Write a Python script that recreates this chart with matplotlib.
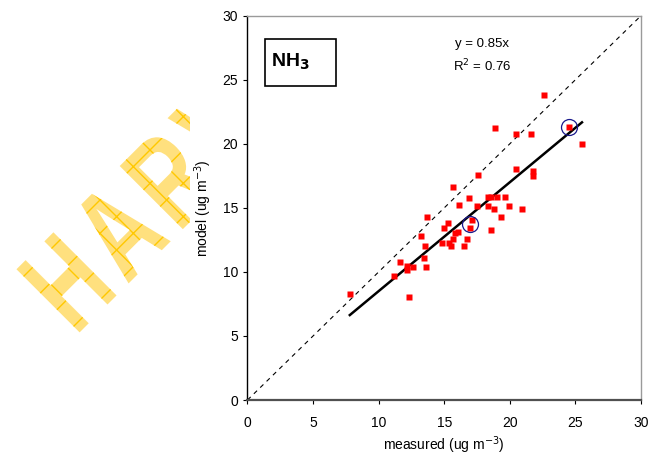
import matplotlib
matplotlib.use("Agg")
import matplotlib.pyplot as plt
import matplotlib.patheffects as pe
from matplotlib.transforms import Bbox, Affine2D
import numpy as np

plt.rcParams['font.family'] = ['Liberation Sans', 'DejaVu Sans']

measured = [25.5, 20.5, 21.8, 21.75, 17.6, 15.7, 16.1, 16.9, 17.5, 18.3, 18.6, 19.0,
            19.65, 18.35, 18.8, 19.9, 20.95, 19.3, 13.7, 15.3, 15.0, 17.1, 16.95, 18.6,
            13.2, 16.05, 15.8, 15.65, 16.7, 14.8, 15.35, 15.55, 16.5, 13.55, 13.45, 11.6,
            12.15, 12.65, 13.6, 12.15, 11.15, 7.8, 12.3, 22.6, 18.85, 20.45, 21.6, 24.5]
model = [20.0, 18.0, 17.9, 17.5, 17.6, 16.65, 15.2, 15.75, 15.15, 15.85, 15.85, 15.85,
         15.85, 15.15, 14.9, 15.15, 14.9, 14.3, 14.25, 13.8, 13.45, 14.05, 13.45, 13.25,
         12.8, 13.15, 13.0, 12.55, 12.6, 12.25, 12.25, 12.0, 12.0, 12.0, 11.1, 10.8,
         10.45, 10.4, 10.4, 10.15, 9.65, 8.3, 8.05, 23.8, 21.25, 20.8, 20.8, 21.3]
circled_x = [24.5, 17.0]
circled_y = [21.3, 13.75]
slope = 0.85
r2 = 0.76
ticks = [0, 5, 10, 15, 20, 25, 30]
watermark = "HARV"


class StretchPatch(pe.PathPatchEffect):
    def __init__(self, sy, **kw):
        super().__init__(**kw)
        self.sy = sy

    def draw_path(self, renderer, gc, tpath, affine, rgbFace):
        affine = Affine2D().scale(1, self.sy) + affine
        super().draw_path(renderer, gc, tpath, affine, rgbFace)


W, H = 648, 455
L, R, B, T = 247.5, 641.0, 400.0, 15.7
fig = plt.figure(figsize=(W / 100, H / 100), dpi=100)
ax = fig.add_axes([L / W, 1 - B / H, (R - L) / W, (B - T) / H])


def axfrac(px, py):
    return (px - L) / (R - L), (B - py) / (B - T)


# watermark (letters placed with extra tracking along a 45-degree baseline)
x0, y0, step = 75.4, 336.6, 73.0
c = np.cos(np.radians(45))
clip = Bbox.from_extents(0, 0, 190, H)
for i, ch in enumerate(watermark):
    px = x0 + i * step * c
    py = y0 - i * step * c
    t = fig.text(px / W, 1 - py / H, ch, rotation=45, rotation_mode='anchor',
                 ha='left', va='baseline', fontsize=64, fontweight='bold',
                 color='#FFE38A', zorder=0)
    t.set_path_effects([StretchPatch(1.46, facecolor='#FFE07E', edgecolor='#FFC800',
                                     hatch='x', linewidth=0)])
    t.set_clip_on(True)
    t.set_clip_box(clip)

ax.plot([0, 30], [0, 30], ls=(0, (4, 4)), color='black', lw=0.8, zorder=2)
xs = np.array([min(measured), max(measured)])
ax.plot(xs, slope * xs, color='black', lw=1.8, zorder=3)
ax.plot(measured, model, ls='none', marker='s', ms=5, color='#FF0000', mec='none', zorder=4)
ax.plot(circled_x, circled_y, ls='none', marker='o', ms=11.5, mfc='none', mec='#1A1A8C',
        mew=0.9, zorder=5)

ax.set_xlim(0, 30)
ax.set_ylim(0, 30)
ax.set_xticks(ticks)
ax.set_yticks(ticks)
ax.tick_params(direction='out', length=3.2, width=0.8, labelsize=10, colors='black')
ax.tick_params(axis='x', pad=8)
ax.tick_params(axis='y', pad=3.5)
for s in ['top', 'right']:
    ax.spines[s].set_color('#9a9a9a')
    ax.spines[s].set_linewidth(1.0)
ax.spines['left'].set_color('black')
ax.spines['left'].set_linewidth(1.0)
ax.spines['bottom'].set_color('#505050')
ax.spines['bottom'].set_linewidth(1.6)
ax.set_xlabel("measured (ug m$^{-3}$)", fontsize=10, labelpad=3.5)
ax.set_ylabel("model (ug m$^{-3}$)", fontsize=10, labelpad=6)

bx0, by0 = axfrac(265, 85.7)
bx1, by1 = axfrac(335.7, 39)
ax.add_patch(plt.Rectangle((bx0, by0), bx1 - bx0, by1 - by0,
                           transform=ax.transAxes, fill=False, lw=1.2, ec='black'))
tx, ty = axfrac(271, 62)
ax.text(tx, ty, "NH$_\\mathbf{3}$", transform=ax.transAxes,
        fontsize=14, fontweight='bold', ha='left', va='center')
ax.text(17.85, 27.8, f"y = {slope}x", ha='center', va='center', fontsize=9.5)
ax.text(17.85, 26.1, f"R$^2$ = {r2}", ha='center', va='center', fontsize=9.5)

fig.savefig("out.png", dpi=100)
